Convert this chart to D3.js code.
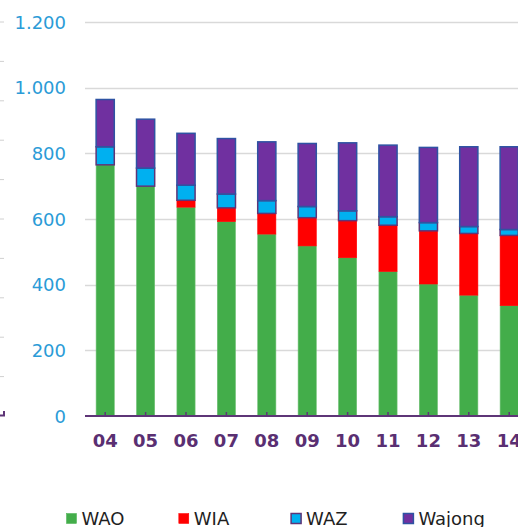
<!DOCTYPE html>
<html>
<head>
<meta charset="utf-8">
<script src="https://cdn.jsdelivr.net/npm/d3@7"></script>
<style>
  body { margin: 0; background: #fff; }
  svg { display: block; font-family: "DejaVu Sans", Verdana, sans-serif; }
</style>
</head>
<body>
<svg id="chart" width="518" height="527"></svg>
<script>
var years = ["04", "05", "06", "07", "08", "09", "10", "11", "12", "13", "14"]
var wao    = [765, 700, 636, 592, 554, 518, 482, 440, 402, 368, 336]
var wia    = [0,   0,   21,  42,  63,  86,  113, 141, 162, 188, 214]
var waz    = [55,  55,  46,  42,  39,  34,  30,  26,  25,  21,  18]
var wajong = [144, 149, 158, 169, 179, 192, 207, 218, 229, 243, 252]
var yTicks = [0, 200, 400, 600, 800, 1000, 1200]
var seriesNames = ["WAO", "WIA", "WAZ", "Wajong"]

var fills   = {WAO: "#43ad4a", WIA: "#ff0000", WAZ: "#00b0f0", Wajong: "#7030a0"}
var strokes = {WAO: "#6fc174", WIA: "#ff0000", WAZ: "#5e3577", Wajong: "#2e53a3"}

var svg = d3.select("#chart")

var x = d3.scaleBand()
  .domain(years)
  .range([85, 85 + 11 * 40.4])
  .paddingInner(0.55)
  .paddingOuter(0.275)

var y = d3.scaleLinear()
  .domain([0, 1200])
  .range([416, 22])

// rows for the stack
var rows = years.map(function(yr, i){
  return {year: yr, WAO: wao[i], WIA: wia[i], WAZ: waz[i], Wajong: wajong[i]}
})
var stacked = d3.stack().keys(seriesNames)(rows)

// faint ticks of a neighbouring axis at the far left
svg.append("g")
  .selectAll("line")
  .data(d3.range(10))
  .enter()
  .append("line")
  .attr("x1", 0).attr("x2", 4)
  .attr("y1", function(d){ return 22 + d * 39.4 })
  .attr("y2", function(d){ return 22 + d * 39.4 })
  .attr("stroke", "#d0d0d0")
  .attr("stroke-width", 1)
svg.append("path")
  .attr("d", "M0,415.5H4V411")
  .attr("fill", "none")
  .attr("stroke", "#5e3577")
  .attr("stroke-width", 2)

// gridlines
svg.append("g")
  .selectAll("line")
  .data(yTicks.slice(1))
  .enter()
  .append("line")
  .attr("x1", 85).attr("x2", 518)
  .attr("y1", function(d){ return Math.round(y(d)) + 0.5 })
  .attr("y2", function(d){ return Math.round(y(d)) + 0.5 })
  .attr("stroke", "#d9d9d9")
  .attr("stroke-width", 1.5)

// y labels
svg.append("g")
  .selectAll("text")
  .data(yTicks)
  .enter()
  .append("text")
  .attr("x", 66)
  .attr("y", function(d){ return y(d) + 6.5 })
  .attr("text-anchor", "end")
  .attr("font-size", "18px")
  .attr("fill", "#2b9bd7")
  .text(function(d){ return d3.format(",")(d).replace(",", ".") })

// bars
svg.append("g")
  .selectAll("g")
  .data(stacked)
  .enter()
  .append("g")
  .attr("fill", function(s){ return fills[s.key] })
  .attr("stroke", function(s){ return strokes[s.key] })
  .attr("stroke-width", function(s){ return (s.key == "WAZ" || s.key == "Wajong") ? 1.5 : 0.6 })
  .selectAll("rect")
  .data(function(s){ return s.filter(function(d){ return d[1] - d[0] > 0 }) })
  .enter()
  .append("rect")
  .attr("x", function(d){ return x(d.data.year) })
  .attr("width", x.bandwidth())
  .attr("y", function(d){ return y(d[1]) })
  .attr("height", function(d){ return y(d[0]) - y(d[1]) })

// x axis
svg.append("line")
  .attr("x1", 85).attr("x2", 518)
  .attr("y1", 416).attr("y2", 416)
  .attr("stroke", "#5e3577")
  .attr("stroke-width", 2)

svg.append("g")
  .selectAll("line")
  .data(years)
  .enter()
  .append("line")
  .attr("x1", function(d){ return x(d) + x.bandwidth() / 2 })
  .attr("x2", function(d){ return x(d) + x.bandwidth() / 2 })
  .attr("y1", 412).attr("y2", 416)
  .attr("stroke", "#5e3577")
  .attr("stroke-width", 1.5)

svg.append("g")
  .selectAll("text")
  .data(years)
  .enter()
  .append("text")
  .attr("x", function(d){ return x(d) + x.bandwidth() / 2 })
  .attr("y", 447)
  .attr("text-anchor", "middle")
  .attr("font-size", "18px")
  .attr("font-weight", "bold")
  .attr("fill", "#5a2f72")
  .text(function(d){ return d })

// legend
var legend = svg.append("g")
  .selectAll("g")
  .data(seriesNames)
  .enter()
  .append("g")
  .attr("transform", function(d, i){ return "translate(" + (66 + i * 112.3) + ",513)" })

legend.append("rect")
  .attr("x", 0.5).attr("y", 0.5)
  .attr("width", 10).attr("height", 10)
  .attr("fill", function(d){ return fills[d] })
  .attr("stroke", function(d){ return (d == "WAZ" || d == "Wajong") ? strokes[d] : fills[d] })
  .attr("stroke-width", function(d){ return (d == "WAZ" || d == "Wajong") ? 1.5 : 0.5 })

legend.append("text")
  .attr("x", 15.5)
  .attr("y", 11.5)
  .attr("font-size", "18px")
  .attr("fill", "#1f1f1f")
  .text(function(d){ return d })
</script>
</body>
</html>
